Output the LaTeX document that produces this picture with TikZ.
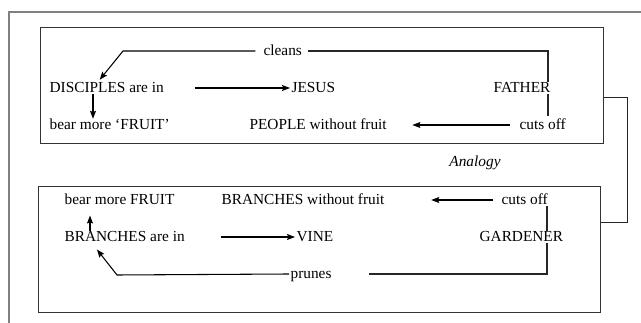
\documentclass[tikz,border=0pt]{standalone}
\usepackage{fontspec}
\setmainfont{Liberation Serif}
\usetikzlibrary{arrows.meta, calc}

\begin{document}
\begin{tikzpicture}[
  x=0.75pt, y=-0.75pt,
  every node/.style={font=\fontsize{11.5}{13}\selectfont},
  word/.style={anchor=west, inner sep=1pt, text height=1.5ex, text depth=0pt},
  panel/.style={draw=black!80, line width=0.9pt, anchor=north west, inner sep=0pt},
  frame/.style={draw=black!50, line width=0.8pt},
  arr/.style={-{Stealth[length=6pt, width=4.5pt, inset=1pt]}, line width=0.8pt},
  link/.style={line width=0.8pt, draw=black!85}
]
\useasboundingbox (0,0) rectangle (641,323);

% ---- OUTER FRAME ----
\draw[frame] (641,12) -- (9,12) -- (9,323);

% ---- PANELS ----
\node[panel, minimum width=422.25pt, minimum height=87pt] (top) at (40,27) {};
\node[panel, minimum width=421.5pt, minimum height=94.5pt] (bot) at (38,186) {};
\node[font=\fontsize{11.5}{13}\selectfont\itshape] (analogy) at (475,163) {Analogy};
\draw[link] ($(top.east)+(0,12)$) -- ++(23,0) |- ($(bot.east)+(0,-27)$);

% ---- TOP PANEL ----
\node[word] (disc) at (48,88) {DISCIPLES are in};
\node[word] (jesus) at (290,88) {JESUS};
\node[word] (father) at (492,88) {FATHER};
\node[word] (bearA) at (48,125) {bear more `FRUIT'};
\node[word] (people) at (248,125) {PEOPLE without fruit};
\node[word] (cutsA) at (518,125) {cuts off};
\node[word] (cleans) at (262,51) {cleans};
\coordinate (fA) at (548,0);
\coordinate (cA) at (123,51);
\draw[arr, shorten <=22pt] (disc.east) -- (jesus.west);
\draw[arr] ($(disc.south west)+(45,0)$) -- ($(bearA.north west)+(45,0)$);
\draw[arr, shorten <=6pt, shorten >=18pt] (cutsA.west) -- (people.east);
\draw[link, shorten >=3pt] (father.north -| fA) |- (cleans.east);
\draw[link, shorten >=2pt] (father.south -| fA) -- (cutsA.north -| fA);
\draw[arr, shorten >=2pt] ([xshift=-5pt]cleans.west) -- (cA) -- ($(disc.north west)+(50,0)$);

% ---- BOTTOM PANEL ----
\node[word] (bearB) at (63,200) {bear more FRUIT};
\node[word] (branchW) at (220,200) {BRANCHES without fruit};
\node[word] (cutsB) at (500,200) {cuts off};
\node[word] (branchIn) at (63,237) {BRANCHES are in};
\node[word] (vine) at (295,237) {VINE};
\node[word] (gardener) at (478,237) {GARDENER};
\node[word] (prunes) at (289,274) {prunes};
\coordinate (gB) at (547,0);
\coordinate (pB) at (117,275);
\draw[arr, shorten <=26pt] (branchIn.east) -- (vine.west);
\draw[arr, shorten >=7pt] ($(branchIn.north west)+(27,0)$) -- ($(bearB.south west)+(27,0)$);
\draw[arr, shorten <=5pt, shorten >=34pt] (cutsB.west) -- (branchW.east);
\draw[link] (cutsB.south -| gB) -- (gardener.north -| gB);
\draw[link, shorten >=27pt] (gardener.south -| gB) |- (prunes.east);
\draw[arr, shorten >=6pt] (prunes.west) -- (pB) -- ($(branchIn.south west)+(29,0)$);
\end{tikzpicture}
\end{document}
